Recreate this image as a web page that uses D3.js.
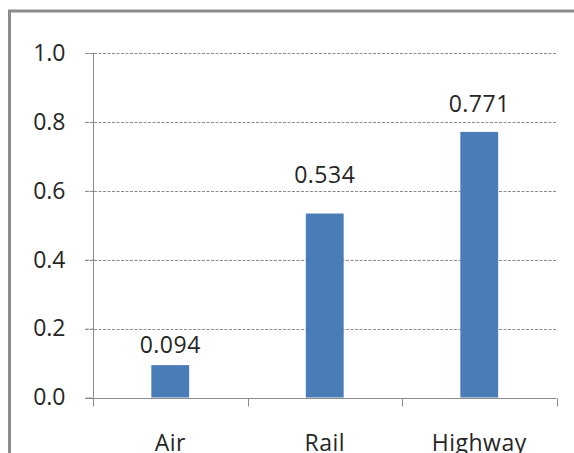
<!DOCTYPE html>
<html>
<head>
<meta charset="utf-8">
<script src="https://cdn.jsdelivr.net/npm/d3@7"></script>
<style>
  html, body { margin: 0; padding: 0; background: #fff; }
  svg { display: block; }
  text { font-family: "Open Sans", sans-serif; fill: #262626; }
</style>
</head>
<body>
<svg id="chart" width="574" height="453"></svg>
<script>
// Transport modes and their values
const categories = ["Air", "Rail", "Highway"];
const values = [0.094, 0.534, 0.771];
const yTicks = [0.0, 0.2, 0.4, 0.6, 0.8, 1.0];

const W = 574, H = 453;
const plot = { left: 93, right: 556.5, top: 53, bottom: 397.5 };

const svg = d3.select("#chart");

// Outer chart frame
svg.append("rect")
  .attr("x", 9.5).attr("y", 11)
  .attr("width", 700).attr("height", 600)
  .attr("fill", "#fff")
  .attr("stroke", "#8c8c8c")
  .attr("stroke-width", 3);

const x = d3.scaleBand()
  .domain(categories)
  .range([plot.left, plot.right])
  .paddingInner(0.755)
  .paddingOuter(0.3775);

const xTicks = d3.scaleBand().domain(categories).range([plot.left, plot.right]);

const y = d3.scaleLinear().domain([0, 1]).range([plot.bottom, plot.top]);

// Horizontal dashed gridlines with short ticks left of the axis
const grid = svg.append("g");
grid.selectAll("line")
  .data(yTicks.filter(d => d > 0))
  .join("line")
  .attr("x1", plot.left - 8).attr("x2", plot.right)
  .attr("y1", d => Math.round(y(d)) + 0.5)
  .attr("y2", d => Math.round(y(d)) + 0.5)
  .attr("stroke", "#8c8c8c")
  .attr("stroke-width", 1)
  .attr("stroke-dasharray", "3,1.5");

// Y axis
const yAxis = d3.axisLeft(y).tickValues(yTicks).tickFormat(d3.format(".1f"))
  .tickSize(8).tickPadding(20);
const gy = svg.append("g")
  .attr("transform", `translate(${plot.left + 0.5},0)`)
  .call(yAxis);
gy.selectAll(".tick line").attr("stroke", "#8c8c8c")
  .attr("stroke-dasharray", d => d > 0 ? "3,1.5" : null);
gy.select(".domain").attr("stroke", "#8c8c8c").attr("d", `M0,${plot.top}V${plot.bottom}`);
gy.selectAll(".tick text")
  .style("font-family", "'Open Sans', sans-serif")
  .style("font-size", "23px")
  .attr("fill", "#262626");

// Bars
svg.append("g").selectAll("rect")
  .data(values)
  .join("rect")
  .attr("x", (d, i) => x(categories[i]))
  .attr("width", x.bandwidth())
  .attr("y", d => y(d))
  .attr("height", d => y(0) - y(d))
  .attr("fill", "#4a7cb8");

// X axis with category boundary ticks
const gx = svg.append("g").attr("transform", `translate(0,${Math.round(plot.bottom) + 0.5})`);
gx.append("line")
  .attr("x1", plot.left - 8).attr("x2", plot.right)
  .attr("stroke", "#8c8c8c");
const bounds = categories.map(c => xTicks(c)).concat([plot.right]);
gx.selectAll("line.tk")
  .data(bounds)
  .join("line")
  .attr("class", "tk")
  .attr("x1", d => Math.round(d) + 0.5).attr("x2", d => Math.round(d) + 0.5)
  .attr("y1", 0).attr("y2", 8)
  .attr("stroke", "#8c8c8c");
gx.selectAll("text")
  .data(categories)
  .join("text")
  .attr("x", d => xTicks(d) + xTicks.bandwidth() / 2)
  .attr("y", 52)
  .attr("text-anchor", "middle")
  .style("font-size", "23px")
  .style("letter-spacing", "0.5px")
  .text(d => d);

// Value labels above bars
const labelGap = [12, 31, 20];
svg.append("g").selectAll("text")
  .data(values)
  .join("text")
  .attr("x", (d, i) => x(categories[i]) + x.bandwidth() / 2)
  .attr("y", (d, i) => y(d) - labelGap[i])
  .attr("text-anchor", "middle")
  .style("font-size", "23px")
  .style("letter-spacing", "0.5px")
  .text(d => d3.format(".3f")(d));
</script>
</body>
</html>
